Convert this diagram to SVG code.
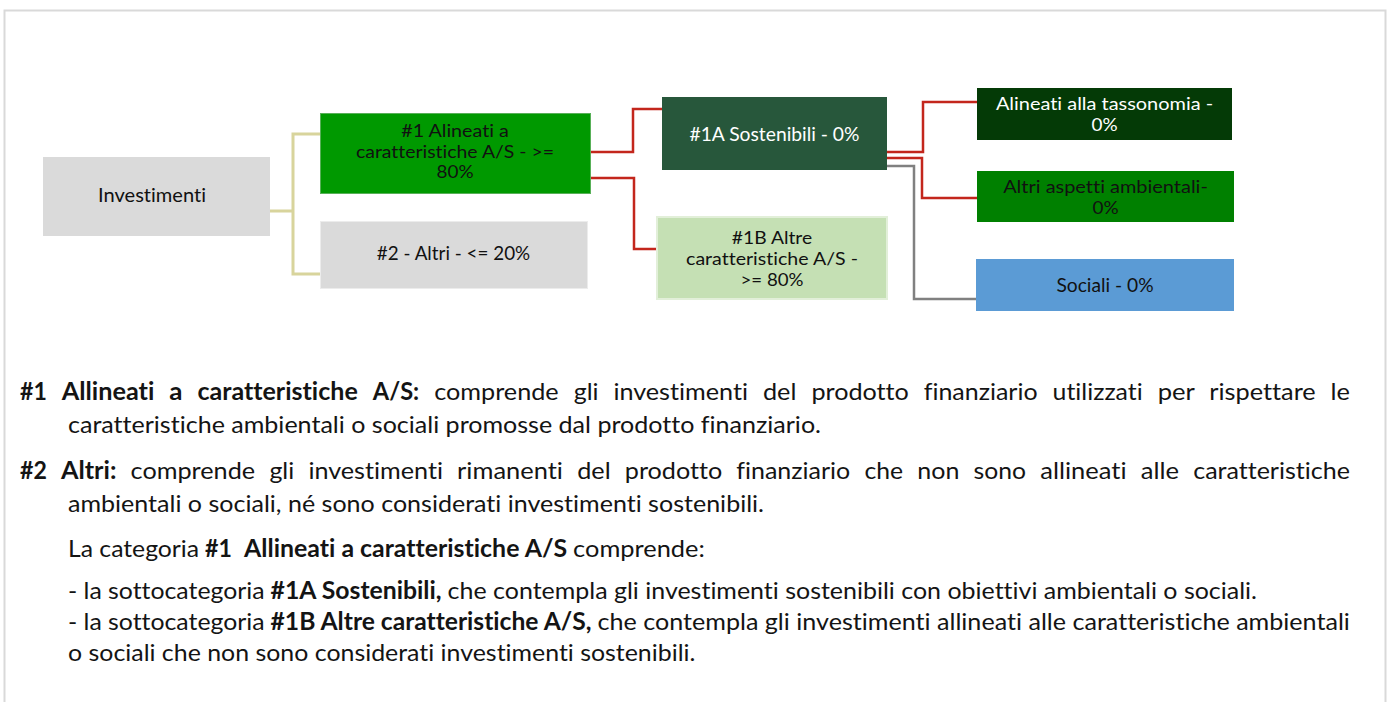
<svg xmlns="http://www.w3.org/2000/svg" width="1390" height="702" viewBox="0 0 1390 702">
<style>
text{font-family:Lato,"Liberation Sans",Arial,sans-serif;font-variant-ligatures:none;font-feature-settings:"liga" 0,"clig" 0,"dlig" 0;}
.bx{font-size:18.5px;text-anchor:middle;fill:#111;}
.m{font-size:17.5px;}
.w{fill:#fff;}
.p{font-size:24px;fill:#141414;}
.b{font-weight:700;}
.cn{fill:none;stroke-width:2.5;stroke-linejoin:miter;}
.ol{stroke:#d8d49c;stroke-width:3;}
.rd{stroke:#c3261c;}
.gr{stroke:#808080;}
</style>
<rect x="4.5" y="10.5" width="1381" height="720" fill="#fff" stroke="#d9d9d9" stroke-width="2"/>
<g id="connectors">
<path class="cn ol" d="M268 211 H293 V134 H321 M293 211 V274 H321"/>
<path class="cn rd" d="M587 152 H633 V109 H663"/>
<path class="cn rd" d="M587 178 H634 V249 H657"/>
<path class="cn rd" d="M886 152 H923 V102 H978"/>
<path class="cn rd" d="M886 158 H922 V198 H978"/>
<path class="cn gr" d="M886 166 H914 V299 H977"/>
</g>
<g id="investimenti">
<rect x="43" y="157" width="227" height="79" fill="#dadada"/>
<text class="bx" x="152" y="202" textLength="108" lengthAdjust="spacingAndGlyphs">Investimenti</text>
</g>
<g id="n1">
<rect x="320.5" y="113.5" width="270" height="80" fill="#009900" stroke="#58b058" stroke-width="1"/>
<text class="bx m" x="455" y="137" textLength="107.5" lengthAdjust="spacingAndGlyphs">#1 Alineati a</text>
<text class="bx m" x="455" y="158" textLength="198" lengthAdjust="spacingAndGlyphs">caratteristiche A/S - &gt;=</text>
<text class="bx m" x="455" y="178" textLength="37" lengthAdjust="spacingAndGlyphs">80%</text>
</g>
<g id="n2">
<rect x="320.5" y="221.5" width="267" height="67" fill="#dadada" stroke="#ececec" stroke-width="1"/>
<text class="bx" x="453.5" y="260" textLength="153.4" lengthAdjust="spacingAndGlyphs">#2 - Altri - &lt;= 20%</text>
</g>
<g id="n1a">
<rect x="662" y="97" width="225" height="73" fill="#27573b"/>
<text class="bx w" x="774.5" y="140.5" textLength="170" lengthAdjust="spacingAndGlyphs">#1A Sostenibili - 0%</text>
</g>
<g id="n1b">
<rect x="657" y="217" width="230" height="82" fill="#c5e0b4" stroke="#e2efd9" stroke-width="2"/>
<text class="bx m" x="772" y="244" textLength="80.3" lengthAdjust="spacingAndGlyphs">#1B Altre</text>
<text class="bx m" x="772" y="265" textLength="171.9" lengthAdjust="spacingAndGlyphs">caratteristiche A/S -</text>
<text class="bx m" x="772" y="286" textLength="62.9" lengthAdjust="spacingAndGlyphs">&gt;= 80%</text>
</g>
<g id="tassonomia">
<rect x="977" y="88" width="255" height="52" fill="#043a06"/>
<text class="bx m w" x="1104.5" y="110" textLength="217.2" lengthAdjust="spacingAndGlyphs">Alineati alla tassonomia -</text>
<text class="bx m w" x="1104.5" y="131" textLength="26.1" lengthAdjust="spacingAndGlyphs">0%</text>
</g>
<g id="ambientali">
<rect x="977" y="171" width="257" height="51" fill="#008000"/>
<text class="bx m" x="1105.5" y="193" textLength="204.7" lengthAdjust="spacingAndGlyphs">Altri aspetti ambientali-</text>
<text class="bx m" x="1105.5" y="214" textLength="26.1" lengthAdjust="spacingAndGlyphs">0%</text>
</g>
<g id="sociali">
<rect x="976" y="259" width="258" height="52" fill="#5b9bd5"/>
<text class="bx" x="1105" y="292" textLength="97.2" lengthAdjust="spacingAndGlyphs">Sociali - 0%</text>
</g>
<g id="legend">
<text class="p" y="400"><tspan class="b" x="20" textLength="26.8" lengthAdjust="spacingAndGlyphs">#1</tspan> <tspan class="b" x="61.8" textLength="92.6" lengthAdjust="spacingAndGlyphs">Allineati</tspan> <tspan class="b" x="169.3" textLength="13.2" lengthAdjust="spacingAndGlyphs">a</tspan> <tspan class="b" x="197.5" textLength="160.3" lengthAdjust="spacingAndGlyphs">caratteristiche</tspan> <tspan class="b" x="372.8" textLength="46.4" lengthAdjust="spacingAndGlyphs">A/S:</tspan> <tspan x="434.2" textLength="124.5" lengthAdjust="spacingAndGlyphs">comprende</tspan> <tspan x="573.7" textLength="24.8" lengthAdjust="spacingAndGlyphs">gli</tspan> <tspan x="613.4" textLength="134.6" lengthAdjust="spacingAndGlyphs">investimenti</tspan> <tspan x="763" textLength="33.4" lengthAdjust="spacingAndGlyphs">del</tspan> <tspan x="811.4" textLength="97.4" lengthAdjust="spacingAndGlyphs">prodotto</tspan> <tspan x="923.7" textLength="113.9" lengthAdjust="spacingAndGlyphs">finanziario</tspan> <tspan x="1052.6" textLength="90.1" lengthAdjust="spacingAndGlyphs">utilizzati</tspan> <tspan x="1157.7" textLength="36.6" lengthAdjust="spacingAndGlyphs">per</tspan> <tspan x="1209.3" textLength="106.4" lengthAdjust="spacingAndGlyphs">rispettare</tspan> <tspan x="1330.6" textLength="19.4" lengthAdjust="spacingAndGlyphs">le</tspan></text>
<text class="p" x="68" y="433" textLength="753" lengthAdjust="spacingAndGlyphs">caratteristiche ambientali o sociali promosse dal prodotto finanziario.</text>
<text class="p" y="479"><tspan class="b" x="20" textLength="26.8" lengthAdjust="spacingAndGlyphs">#2</tspan> <tspan class="b" x="61" textLength="55.4" lengthAdjust="spacingAndGlyphs">Altri:</tspan> <tspan x="130.6" textLength="124.5" lengthAdjust="spacingAndGlyphs">comprende</tspan> <tspan x="269.4" textLength="24.8" lengthAdjust="spacingAndGlyphs">gli</tspan> <tspan x="308.4" textLength="134.6" lengthAdjust="spacingAndGlyphs">investimenti</tspan> <tspan x="457.1" textLength="105.8" lengthAdjust="spacingAndGlyphs">rimanenti</tspan> <tspan x="577.2" textLength="33.4" lengthAdjust="spacingAndGlyphs">del</tspan> <tspan x="624.8" textLength="97.4" lengthAdjust="spacingAndGlyphs">prodotto</tspan> <tspan x="736.3" textLength="113.9" lengthAdjust="spacingAndGlyphs">finanziario</tspan> <tspan x="864.5" textLength="38.6" lengthAdjust="spacingAndGlyphs">che</tspan> <tspan x="917.3" textLength="42.1" lengthAdjust="spacingAndGlyphs">non</tspan> <tspan x="973.5" textLength="52.5" lengthAdjust="spacingAndGlyphs">sono</tspan> <tspan x="1040.3" textLength="86.2" lengthAdjust="spacingAndGlyphs">allineati</tspan> <tspan x="1140.7" textLength="38.3" lengthAdjust="spacingAndGlyphs">alle</tspan> <tspan x="1193.2" textLength="156.7" lengthAdjust="spacingAndGlyphs">caratteristiche</tspan></text>
<text class="p" x="68" y="512" textLength="696" lengthAdjust="spacingAndGlyphs">ambientali o sociali, né sono considerati investimenti sostenibili.</text>
<text class="p" y="557"><tspan x="68" textLength="131.1" lengthAdjust="spacingAndGlyphs">La categoria</tspan> <tspan class="b" x="205.1" textLength="26.8" lengthAdjust="spacingAndGlyphs">#1</tspan> <tspan class="b" x="244" textLength="323.2" lengthAdjust="spacingAndGlyphs">Allineati a caratteristiche A/S</tspan> <tspan x="573.1" textLength="131.7" lengthAdjust="spacingAndGlyphs">comprende:</tspan></text>
<text class="p" y="599"><tspan x="68" textLength="196.6" lengthAdjust="spacingAndGlyphs">- la sottocategoria</tspan> <tspan class="b" x="270.6" textLength="171" lengthAdjust="spacingAndGlyphs">#1A Sostenibili,</tspan> <tspan x="447.6" textLength="809.4" lengthAdjust="spacingAndGlyphs">che contempla gli investimenti sostenibili con obiettivi ambientali o sociali.</tspan></text>
<text class="p" y="630"><tspan x="68" textLength="196.6" lengthAdjust="spacingAndGlyphs">- la sottocategoria</tspan> <tspan class="b" x="270.6" textLength="320.9" lengthAdjust="spacingAndGlyphs">#1B Altre caratteristiche A/S,</tspan> <tspan x="597.5" textLength="752.4" lengthAdjust="spacingAndGlyphs">che contempla gli investimenti allineati alle caratteristiche ambientali</tspan></text>
<text class="p" x="68" y="661" textLength="627.4" lengthAdjust="spacingAndGlyphs">o sociali che non sono considerati investimenti sostenibili.</text>
</g>
</svg>
